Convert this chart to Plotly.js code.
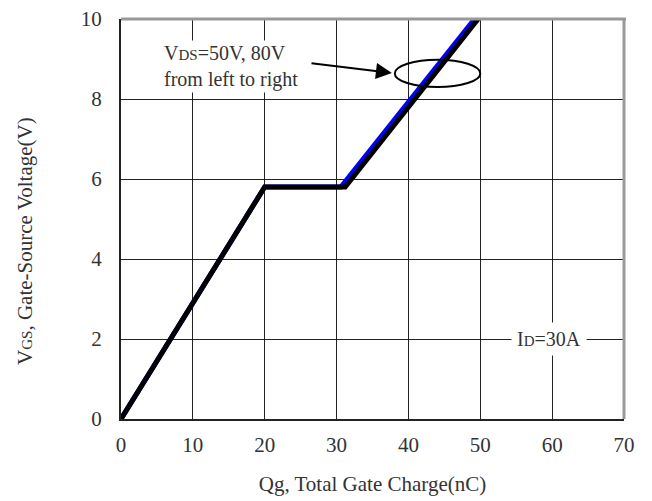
<!DOCTYPE html>
<html>
<head>
<meta charset="utf-8">
<script src="https://cdn.plot.ly/plotly-3.0.1.min.js"></script>
<style>html,body{margin:0;padding:0;background:#fff}#chart{width:652px;height:501px}</style>
</head>
<body>
<div id="chart"></div>
<script>
// Gate charge curves (Qg in nC, VGS in V)
const qg50 = [0, 20, 30.6, 49.2];
const vgs50 = [0, 5.8, 5.8, 10];
const qg80 = [0, 20, 31.2, 49.7];
const vgs80 = [0, 5.8, 5.8, 10];
const xTicks = [0, 10, 20, 30, 40, 50, 60, 70];
const yTicks = [0, 2, 4, 6, 8, 10];

const FONT = "'Liberation Serif', 'Times New Roman', serif";

const traces = [
  {x: qg50, y: vgs50, mode: 'lines', line: {color: '#0000ff', width: 5}, hoverinfo: 'skip'},
  {x: qg80, y: vgs80, mode: 'lines', line: {color: '#000000', width: 5}, hoverinfo: 'skip'}
];

const layout = {
  width: 652, height: 501,
  margin: {l: 121, r: 28, t: 19, b: 82},
  paper_bgcolor: '#fff', plot_bgcolor: '#fff',
  showlegend: false,
  font: {family: FONT, color: '#222', size: 20},
  xaxis: {
    range: [0, 70], tickvals: xTicks, ticktext: xTicks.map(String),
    showgrid: true, gridcolor: '#222', gridwidth: 1,
    showline: true, linecolor: '#222', linewidth: 2,
    zeroline: false, ticks: '', ticklabelstandoff: 6,
    tickfont: {family: FONT, size: 21, color: '#333'},
    title: {text: 'Qg, Total Gate Charge(nC)', font: {family: FONT, size: 21, color: '#333'}, standoff: 20}
  },
  yaxis: {
    range: [0, 10], tickvals: yTicks, ticktext: yTicks.map(String),
    showgrid: true, gridcolor: '#222', gridwidth: 1,
    showline: true, linecolor: '#222', linewidth: 2,
    zeroline: false, ticks: '', ticklabelstandoff: 13,
    tickfont: {family: FONT, size: 21, color: '#333'}
  },
  shapes: [
    {type: 'line', xref: 'paper', yref: 'paper', x0: 0, x1: 1.004, y0: 1, y1: 1, line: {color: '#999', width: 3}},
    {type: 'line', xref: 'paper', yref: 'paper', x0: 1, x1: 1, y0: 0, y1: 1, line: {color: '#999', width: 3}},
    {type: 'circle', xref: 'x', yref: 'y', x0: 38.1, x1: 50.0, y0: 8.3, y1: 8.98, line: {color: '#000', width: 2}}
  ],
  annotations: [
    {x: -0.191, y: 0.445, xref: 'paper', yref: 'paper', textangle: -90, showarrow: false,
     xanchor: 'center', yanchor: 'middle',
     text: "V<span style='font-size:15px'>GS</span>, Gate-Source Voltage(V)",
     font: {family: FONT, size: 21, color: '#333'}},
    {x: 5.7, y: 8.81, xref: 'x', yref: 'y', xanchor: 'left', yanchor: 'middle', align: 'left', showarrow: false,
     bgcolor: '#fff',
     text: "V<span style='font-size:15px'>DS</span>=50V, 80V<br>from left to right",
     font: {family: FONT, size: 20, color: '#333'}},
    {x: 37.7, y: 8.65, xref: 'x', yref: 'y', axref: 'x', ayref: 'y', ax: 26.3, ay: 8.9,
     showarrow: true, arrowhead: 2, arrowsize: 1.6, arrowwidth: 2, arrowcolor: '#000', text: ''},
    {x: 59.6, y: 2, xref: 'x', yref: 'y', showarrow: false, bgcolor: '#fff', borderpad: 5,
     text: "I<span style='font-size:15px'>D</span>=30A",
     font: {family: FONT, size: 20, color: '#333'}}
  ]
};

Plotly.newPlot('chart', traces, layout, {displayModeBar: false, staticPlot: true});
</script>
</body>
</html>
